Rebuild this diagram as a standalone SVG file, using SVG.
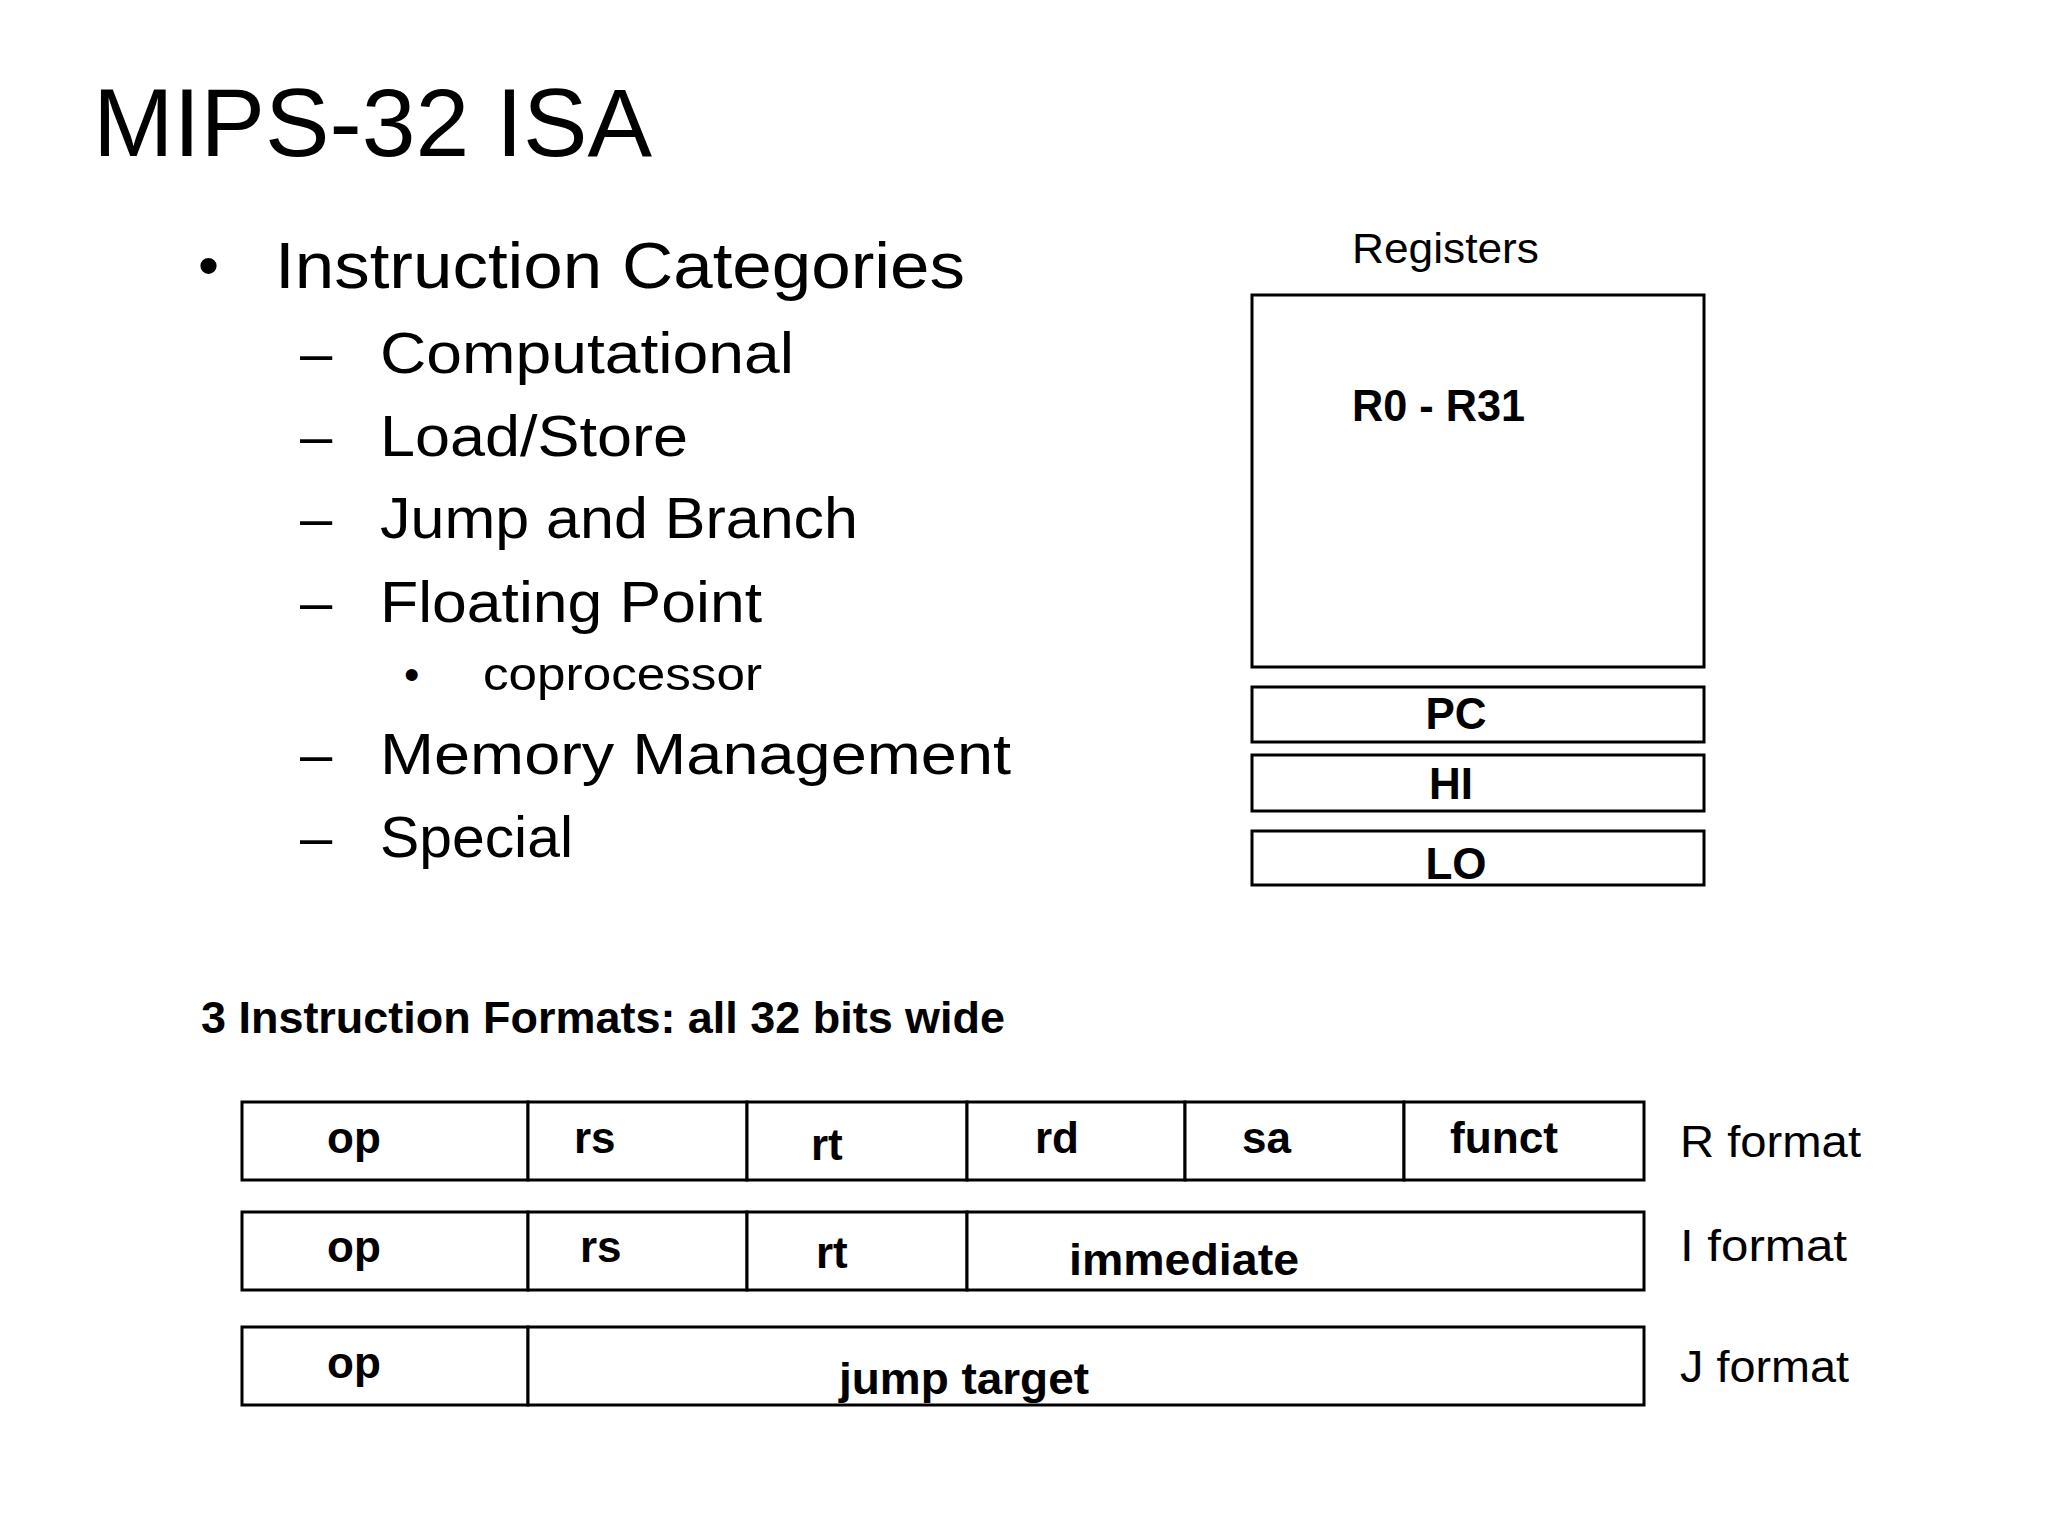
<svg xmlns="http://www.w3.org/2000/svg" width="2048" height="1536" viewBox="0 0 2048 1536">
<style>
text{font-family:"Liberation Sans",Arial,sans-serif;fill:#000}
.b{font-weight:bold;font-size:44px}
.box{fill:#fff;stroke:#000;stroke-width:3}
.n{font-size:44px}
</style>
<rect width="2048" height="1536" fill="#fff"/>
<text x="93" y="156" font-size="96" textLength="559" lengthAdjust="spacingAndGlyphs">MIPS-32 ISA</text>
<g id="list">
<text x="198" y="286" font-size="60">•</text>
<text x="275" y="288" font-size="64" textLength="690" lengthAdjust="spacingAndGlyphs">Instruction Categories</text>
<text x="300" y="373" font-size="58">–</text><text x="380" y="373" font-size="58" textLength="414" lengthAdjust="spacingAndGlyphs">Computational</text>
<text x="300" y="456" font-size="58">–</text><text x="380" y="456" font-size="58" textLength="308" lengthAdjust="spacingAndGlyphs">Load/Store</text>
<text x="300" y="538" font-size="58">–</text><text x="380" y="538" font-size="58" textLength="478" lengthAdjust="spacingAndGlyphs">Jump and Branch</text>
<text x="300" y="622" font-size="58">–</text><text x="380" y="622" font-size="58" textLength="382" lengthAdjust="spacingAndGlyphs">Floating Point</text>
<text x="404" y="690" font-size="44">•</text><text x="483" y="690" font-size="46" textLength="279" lengthAdjust="spacingAndGlyphs">coprocessor</text>
<text x="300" y="774" font-size="58">–</text><text x="380" y="774" font-size="58" textLength="631" lengthAdjust="spacingAndGlyphs">Memory Management</text>
<text x="300" y="857" font-size="58">–</text><text x="380" y="857" font-size="58" textLength="193" lengthAdjust="spacingAndGlyphs">Special</text>
</g>
<g id="registers">
<text x="1352" y="263" font-size="42" textLength="187" lengthAdjust="spacingAndGlyphs">Registers</text>
<rect class="box" x="1252" y="295" width="452" height="372"/>
<text class="b" x="1352" y="421" textLength="173" lengthAdjust="spacingAndGlyphs">R0 - R31</text>
</g>
<g id="pc"><rect class="box" x="1252" y="687" width="452" height="55"/><text class="b" x="1456" y="729" text-anchor="middle">PC</text></g>
<g id="hi"><rect class="box" x="1252" y="755" width="452" height="56"/><text class="b" x="1451" y="799" text-anchor="middle">HI</text></g>
<g id="lo"><rect class="box" x="1252" y="831" width="452" height="54"/><text class="b" x="1456" y="879" text-anchor="middle">LO</text></g>
<text class="b" x="201" y="1033" textLength="804" lengthAdjust="spacingAndGlyphs">3 Instruction Formats: all 32 bits wide</text>
<g id="rformat">
<rect class="box" x="242" y="1102" width="286" height="78"/><rect class="box" x="528" y="1102" width="219" height="78"/><rect class="box" x="747" y="1102" width="220" height="78"/><rect class="box" x="967" y="1102" width="218" height="78"/><rect class="box" x="1185" y="1102" width="219" height="78"/><rect class="box" x="1404" y="1102" width="240" height="78"/>
<text class="b" x="327" y="1153">op</text><text class="b" x="574" y="1153">rs</text><text class="b" x="811" y="1160">rt</text><text class="b" x="1035" y="1153">rd</text><text class="b" x="1242" y="1153">sa</text><text class="b" x="1450" y="1153" textLength="108" lengthAdjust="spacingAndGlyphs">funct</text>
<text class="n" x="1680" y="1157" textLength="181" lengthAdjust="spacingAndGlyphs">R format</text>
</g>
<g id="iformat">
<rect class="box" x="242" y="1212" width="286" height="78"/><rect class="box" x="528" y="1212" width="219" height="78"/><rect class="box" x="747" y="1212" width="220" height="78"/><rect class="box" x="967" y="1212" width="677" height="78"/>
<text class="b" x="327" y="1262">op</text><text class="b" x="580" y="1262">rs</text><text class="b" x="816" y="1268">rt</text><text class="b" x="1069" y="1275" textLength="230" lengthAdjust="spacingAndGlyphs">immediate</text>
<text class="n" x="1680" y="1261" textLength="167" lengthAdjust="spacingAndGlyphs">I format</text>
</g>
<g id="jformat">
<rect class="box" x="242" y="1327" width="286" height="78"/><rect class="box" x="528" y="1327" width="1116" height="78"/>
<text class="b" x="327" y="1378">op</text><text class="b" x="839" y="1394" textLength="250" lengthAdjust="spacingAndGlyphs">jump target</text>
<text class="n" x="1680" y="1382" textLength="169" lengthAdjust="spacingAndGlyphs">J format</text>
</g>
<g id="connectors"/>
</svg>
